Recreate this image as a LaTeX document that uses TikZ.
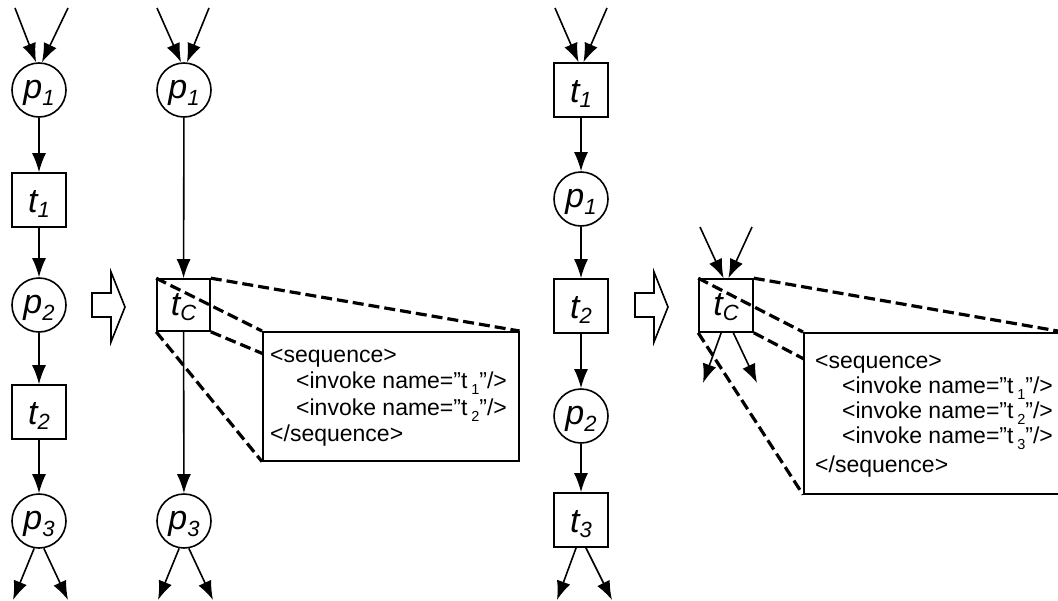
\documentclass[tikz,border=0pt]{standalone}
\usepackage{fontspec}
\setmainfont{Liberation Sans}
\usetikzlibrary{arrows.meta,backgrounds}
\newcommand\lab[4]{\raisebox{-#1}[0pt][0pt]{#2\raisebox{-#4}{\fontsize{22}{22}\selectfont #3}}}
\newcommand\xs[1]{\,\raisebox{-6pt}{\fontsize{14.5}{14.5}\selectfont #1}}
\begin{document}
\begin{tikzpicture}[x=1pt,y=-1pt,
 place/.style={circle,draw,line width=1.6pt,minimum size=54pt,inner sep=0pt,font=\fontsize{34}{34}\selectfont\itshape},
 trans/.style={rectangle,draw,line width=1.6pt,minimum width=54pt,minimum height=54pt,inner sep=0pt,font=\fontsize{34}{34}\selectfont\itshape},
 arc/.style={line width=1.6pt,-{Latex[length=19pt,width=14pt]}},
 zoomln/.style={line width=3.2pt,dash pattern=on 11pt off 5pt},
 xmlbox/.style={draw,fill=white,line width=1.6pt,inner sep=0pt,anchor=north west},
 xmltxt/.style={anchor=base west,inner sep=0pt,font=\fontsize{23}{23}\selectfont},
 hollow/.style={draw,line width=1.6pt,line join=miter}]
\useasboundingbox (0,0) rectangle (1058,600);

% ---- column 1
\node[place] (p1a) at (39,90) {\lab{8pt}{p}{1}{7pt}};
\node[trans] (t1a) at (39,200) {\lab{12pt}{t}{1}{5pt}};
\node[place] (p2a) at (39,305) {\lab{8pt}{p}{2}{7pt}};
\node[trans] (t2a) at (39,412) {\lab{12pt}{t}{2}{5pt}};
\node[place] (p3a) at (39,521) {\lab{8pt}{p}{3}{7pt}};
\coordinate (ia1) at (15,8);
\coordinate (ia2) at (68,8);
\coordinate (oa1) at (13,600);
\coordinate (oa2) at (68,600);
\draw[arc] (ia1) -- (p1a.96);
\draw[arc] (ia2) -- (p1a.84);
\draw[arc] (p1a) -- (t1a);
\draw[arc] (t1a) -- (p2a);
\draw[arc] (p2a) -- (t2a);
\draw[arc] (t2a) -- (p3a);
\draw[arc] (p3a.-100) -- (oa1);
\draw[arc] (p3a.-80) -- (oa2);

% ---- hollow arrow 1
\draw[hollow] (92,293) -- (111,293) -- (111,272) -- (125,307) -- (111,342) -- (111,317) -- (92,317) -- cycle;

% ---- column 2
\node[place] (p1b) at (184,90) {\lab{8pt}{p}{1}{7pt}};
\node[trans,minimum width=53pt,minimum height=52pt] (tCb) at (183.5,305) {\lab{10pt}{t}{C}{5pt}};
\node[place] (p3b) at (184,521) {\lab{8pt}{p}{3}{7pt}};
\coordinate (ib1) at (157,8);
\coordinate (ib2) at (209,8);
\coordinate (ob1) at (158,600);
\coordinate (ob2) at (213,600);
\draw[arc] (ib1) -- (p1b.96);
\draw[arc] (ib2) -- (p1b.84);
\draw[arc] (p1b) -- (tCb);
\draw[arc] (tCb) -- (p3b);
\draw[arc] (p3b.-100) -- (ob1);
\draw[arc] (p3b.-80) -- (ob2);

\node[xmlbox,minimum width=256pt,minimum height=129pt] (x1) at (262,331) {};
\node[xmltxt] (x1l1) at (270,362) {<sequence>};
\node[xmltxt] (x1l2) at (296,388) {<invoke name=”t\xs{1}"/>};
\node[xmltxt] (x1l3) at (296,415) {<invoke name=”t\xs{2}"/>};
\node[xmltxt] (x1l4) at (270,441) {</sequence>};
\begin{scope}[on background layer]
\draw[zoomln] (tCb.north west) -- (x1.north west);
\draw[zoomln] (tCb.north east) -- (x1.north east);
\draw[zoomln] (tCb.south west) -- (x1.south west);
\draw[zoomln] (tCb.south east) -- (x1.south east);
\end{scope}

% ---- column 3
\node[trans] (t1c) at (581,90) {\lab{12pt}{t}{1}{5pt}};
\node[place] (p1c) at (581,199) {\lab{8pt}{p}{1}{7pt}};
\node[trans] (t2c) at (581,306) {\lab{12pt}{t}{2}{5pt}};
\node[place] (p2c) at (581,416) {\lab{8pt}{p}{2}{7pt}};
\node[trans] (t3c) at (581,520) {\lab{12pt}{t}{3}{5pt}};
\coordinate (ic1) at (555,8);
\coordinate (ic2) at (607,8);
\coordinate (oc1) at (557,600);
\coordinate (oc2) at (612,600);
\draw[arc] (ic1) -- (t1c.95);
\draw[arc] (ic2) -- (t1c.85);
\draw[arc] (t1c) -- (p1c);
\draw[arc] (p1c) -- (t2c);
\draw[arc] (t2c) -- (p2c);
\draw[arc] (p2c) -- (t3c);
\draw[arc] (t3c.-100) -- (oc1);
\draw[arc] (t3c.-80) -- (oc2);

% ---- hollow arrow 2
\draw[hollow] (635,293) -- (654,293) -- (654,272) -- (668,307) -- (654,342) -- (654,317) -- (635,317) -- cycle;

% ---- column 4
\node[trans,minimum height=53pt] (tCd) at (726,305.5) {\lab{10pt}{t}{C}{5pt}};
\coordinate (id1) at (700,227);
\coordinate (id2) at (752,227);
\coordinate (od1) at (703,383);
\coordinate (od2) at (757,383);
\draw[arc] (id1) -- (tCd.95);
\draw[arc] (id2) -- (tCd.85);
\draw[arc] (tCd.-100) -- (od1);
\draw[arc] (tCd.-75) -- (od2);

\node[xmlbox,minimum width=259pt,minimum height=161pt] (x2) at (803,332) {};
\node[xmltxt] (x2l1) at (815,368) {<sequence>};
\node[xmltxt] (x2l2) at (842,393) {<invoke name=”t\xs{1}"/>};
\node[xmltxt] (x2l3) at (842,418) {<invoke name=”t\xs{2}"/>};
\node[xmltxt] (x2l4) at (842,443) {<invoke name=”t\xs{3}"/>};
\node[xmltxt] (x2l5) at (815,472) {</sequence>};
\begin{scope}[on background layer]
\draw[zoomln] (tCd.north west) -- (x2.north west);
\draw[zoomln] (tCd.north east) -- (x2.north east);
\draw[zoomln] (tCd.south west) -- (x2.south west);
\draw[zoomln] (tCd.south east) -- (x2.south east);
\end{scope}
\end{tikzpicture}
\end{document}
